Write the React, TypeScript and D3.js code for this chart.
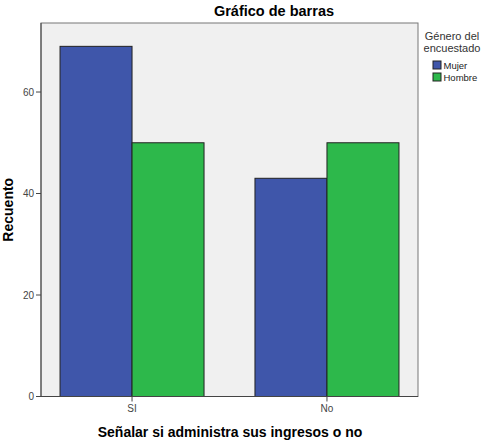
import React from "react";
import * as d3 from "d3";

const categories = ["SI", "No"];
const genders = ["Mujer", "Hombre"];
const mujerValues = [69, 43];
const hombreValues = [50, 50];
const yTicks = [0, 20, 40, 60];
const colors = ["#3F56AA", "#2DB84B"];

export default function App() {
  const W = 491, H = 442;
  const m = { left: 41, right: 418, top: 23, bottom: 396.5 };
  const x = d3.scalePoint<string>().domain(categories).range([m.left, m.right]).padding(0.467);
  const xInner = d3.scaleBand<string>().domain(genders).range([-72, 72]).padding(0);
  const y = d3.scaleLinear().domain([0, 73.6]).range([m.bottom, m.top]);
  const series = [mujerValues, hombreValues];
  const font = "'Liberation Sans', Arial, sans-serif";
  return (
    <svg width={W} height={H} style={{ position: "absolute", left: 0, top: 0, fontFamily: font }}>
      <rect x={0} y={0} width={W} height={H} fill="#fff" />
      <text x={274} y={16} textAnchor="middle" fontSize={14.5} fontWeight="bold" fill="#000">Gráfico de barras</text>
      <rect x={m.left} y={m.top} width={m.right - m.left} height={m.bottom - m.top} fill="#F0F0F0" stroke="#777" strokeWidth={1} />
      {categories.map((c, ci) =>
        genders.map((g, gi) => {
          const v = series[gi][ci];
          const x0 = (x(c) as number) + (xInner(g) as number);
          return (
            <rect key={c + g} x={x0} y={y(v)} width={xInner.bandwidth()} height={y(0) - y(v)}
              fill={colors[gi]} stroke="#222" strokeWidth={1} />
          );
        })
      )}
      <line x1={m.left} x2={m.right} y1={m.bottom} y2={m.bottom} stroke="#444" />
      <line x1={m.left} x2={m.left} y1={m.top} y2={m.bottom} stroke="#444" />
      {yTicks.map((t) => (
        <g key={t}>
          <line x1={m.left - 5} x2={m.left} y1={y(t)} y2={y(t)} stroke="#444" />
          <text x={m.left - 7} y={y(t) + 3.5} textAnchor="end" fontSize={10} fill="#444">{t}</text>
        </g>
      ))}
      {categories.map((c) => (
        <g key={c}>
          <line x1={x(c)} x2={x(c)} y1={m.bottom} y2={m.bottom + 5} stroke="#444" />
          <text x={x(c)} y={m.bottom + 15} textAnchor="middle" fontSize={10} fill="#444">{c}</text>
        </g>
      ))}
      <text x={230} y={437} textAnchor="middle" fontSize={14} fontWeight="bold" fill="#000">Señalar si administra sus ingresos o no</text>
      <text transform={`translate(13,${(m.top + m.bottom) / 2}) rotate(-90)`} textAnchor="middle" fontSize={14} fontWeight="bold" fill="#000">Recuento</text>
      <text x={452} y={40} textAnchor="middle" fontSize={11} fill="#333">Género del</text>
      <text x={452} y={52} textAnchor="middle" fontSize={11} fill="#333">encuestado</text>
      {genders.map((g, gi) => (
        <g key={g}>
          <rect x={433} y={61 + gi * 12} width={8} height={8} fill={colors[gi]} stroke="#222" strokeWidth={1} />
          <text x={443.5} y={69 + gi * 12} fontSize={9.5} fill="#222">{g}</text>
        </g>
      ))}
    </svg>
  );
}
